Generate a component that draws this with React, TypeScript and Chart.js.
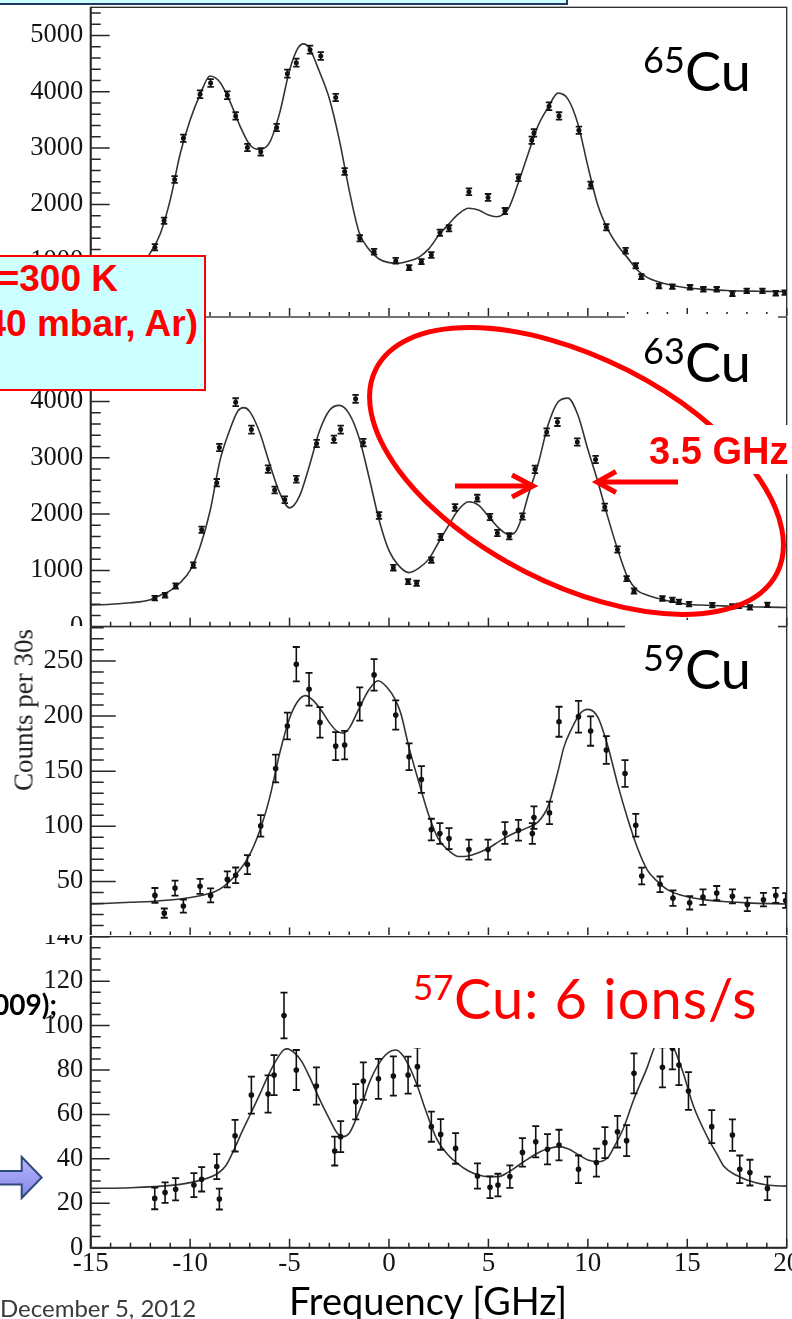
import React, { useEffect, useRef } from 'react';
import { Chart, registerables } from 'chart.js';

Chart.register(...registerables);
Chart.defaults.font.family = 'Liberation Serif';

// ---------------- data ----------------
const X_MIN = -15;
const X_MAX = 20;
const X_TICKS = [-15, -10, -5, 0, 5, 10, 15, 20];

const Y_TICKS_65CU = [0, 1000, 2000, 3000, 4000, 5000];
const Y_TICKS_63CU = [0, 1000, 2000, 3000, 4000, 5000];
const Y_TICKS_59CU = [50, 100, 150, 200, 250];
const Y_TICKS_57CU = [0, 20, 40, 60, 80, 100, 120, 140];

// [frequency (GHz), counts, error]
const CU65_POINTS: [number, number, number][] = [
  [-11.77, 1238, 55], [-11.31, 1709, 55], [-10.78, 2443, 60], [-10.34, 3175, 65], [-9.5, 3956, 70],
  [-8.97, 4156, 70], [-8.13, 3938, 70], [-7.71, 3571, 65], [-7.12, 3010, 65], [-6.45, 2933, 65],
  [-5.65, 3365, 65], [-5.11, 4322, 70], [-4.66, 4517, 70], [-3.97, 4748, 70], [-3.43, 4635, 70],
  [-2.68, 3897, 65], [-2.23, 2585, 60], [-1.47, 1397, 55], [-0.75, 1160, 50], [0.34, 1000, 50],
  [1.01, 876, 45], [1.63, 983, 45], [2.13, 1101, 50], [2.56, 1497, 55], [3.02, 1574, 55],
  [4.02, 2223, 60], [4.98, 2124, 60], [5.83, 1881, 55], [6.51, 2472, 60], [7.18, 3140, 65],
  [7.29, 3269, 65], [8.05, 3743, 70], [8.55, 3571, 65], [9.55, 3317, 65], [10.14, 2342, 60],
  [10.93, 1592, 55], [11.9, 1177, 50], [12.41, 911, 45], [12.69, 716, 45], [13.58, 551, 40],
  [14.25, 539, 40], [15.14, 528, 40], [15.81, 493, 40], [16.48, 493, 40], [17.27, 410, 40],
  [17.99, 463, 40], [18.78, 463, 40], [19.45, 422, 40], [19.9, 433, 40],
];
const CU65_FIT: [number, number][] = [
  [-15, 470], [-14, 520], [-13, 680], [-12.5, 880], [-12, 1140], [-11.5, 1480], [-11, 2080],
  [-10.5, 2900], [-10, 3500], [-9.5, 3950], [-9, 4280], [-8.5, 4170], [-8, 3830], [-7.5, 3400],
  [-7, 3060], [-6.5, 2975], [-6, 3100], [-5.5, 3620], [-5, 4380], [-4.6, 4760], [-4.3, 4850],
  [-4, 4770], [-3.5, 4360], [-3, 3880], [-2.5, 3150], [-2, 2250], [-1.5, 1500], [-1, 1200],
  [-0.5, 1030], [0, 965], [0.5, 955], [1, 995], [1.5, 1060], [2, 1210], [2.5, 1450], [3, 1650],
  [3.5, 1830], [4, 1930], [4.5, 1900], [5, 1810], [5.4, 1780], [6, 1920], [6.5, 2380], [7, 2900],
  [7.5, 3400], [8, 3720], [8.5, 3975], [9, 3870], [9.5, 3430], [10, 2680], [10.5, 1990],
  [11, 1560], [11.5, 1270], [12, 1050], [12.5, 830], [13, 700], [13.5, 630], [14, 580],
  [15, 515], [16, 490], [17, 470], [18, 460], [19, 455], [20, 450],
];

const CU63_POINTS: [number, number, number][] = [
  [-11.78, 506, 40], [-11.26, 559, 40], [-10.73, 723, 45], [-9.84, 1094, 50], [-9.42, 1723, 55],
  [-8.66, 2558, 65], [-8.53, 3182, 65], [-7.71, 3987, 70], [-6.92, 3500, 70], [-6.08, 2799, 65],
  [-5.75, 2429, 60], [-5.24, 2253, 60], [-4.66, 2618, 60], [-3.64, 3253, 65], [-2.77, 3329, 65],
  [-2.43, 3500, 70], [-1.68, 4047, 70], [-1.29, 3270, 65], [-0.5, 1976, 60], [0.22, 1048, 50],
  [0.96, 801, 45], [1.39, 771, 45], [2.13, 1182, 50], [2.6, 1595, 55], [3.32, 2117, 60],
  [4.44, 2283, 60], [5.08, 1947, 55], [5.45, 1665, 55], [6.05, 1605, 55], [6.71, 1958, 55],
  [7.34, 2794, 65], [7.93, 3457, 65], [8.47, 3634, 70], [9.47, 3281, 65], [10.39, 2970, 65],
  [10.85, 2124, 60], [11.49, 1371, 55], [11.95, 854, 45], [12.32, 635, 45], [13.75, 501, 40],
  [14.25, 476, 40], [14.58, 441, 40], [15.09, 400, 40], [16.26, 383, 40], [17.27, 360, 40],
  [17.6, 370, 40], [18.15, 342, 40], [19.03, 388, 40],
];
const CU63_FIT: [number, number][] = [
  [-15, 385], [-14, 400], [-13, 425], [-12, 480], [-11.5, 560], [-11, 640], [-10.5, 780],
  [-10, 1000], [-9.5, 1420], [-9, 2050], [-8.5, 2950], [-8, 3500], [-7.6, 3830], [-7.3, 3890],
  [-7, 3820], [-6.5, 3450], [-6, 2890], [-5.5, 2380], [-5, 2110], [-4.5, 2320], [-4, 2860],
  [-3.5, 3470], [-3, 3840], [-2.5, 3930], [-2, 3780], [-1.5, 3350], [-1, 2650], [-0.5, 1900],
  [0, 1350], [0.5, 1080], [1, 960], [1.5, 1040], [2, 1200], [2.5, 1500], [3, 1800], [3.5, 2080],
  [4, 2220], [4.5, 2160], [5, 1960], [5.5, 1760], [6, 1640], [6.3, 1660], [6.7, 1960], [7, 2330],
  [7.5, 2890], [8, 3580], [8.5, 3990], [9, 4060], [9.5, 3760], [10, 3150], [10.5, 2580],
  [11, 1950], [11.5, 1370], [12, 880], [12.5, 640], [13, 560], [13.5, 505], [14, 460], [15, 400],
  [16, 380], [17, 365], [18, 355], [19, 348], [20, 340],
];

const CU59_POINTS: [number, number, number][] = [
  [-11.77, 37.3, 6.7], [-11.3, 21.2, 4.2], [-10.76, 43.9, 6.8], [-10.34, 27.6, 5.9], [-9.5, 45.5, 6.8],
  [-8.97, 37.3, 6.4], [-8.13, 51.8, 7.3], [-7.71, 55.5, 7.1], [-7.12, 65.2, 8.6], [-6.45, 100.3, 9.8],
  [-5.7, 152.4, 12.6], [-5.11, 190.9, 12.1], [-4.66, 247, 15.6], [-4.02, 224.3, 14.8], [-3.47, 194.2, 13.9],
  [-2.68, 172.7, 12.7], [-2.23, 173.6, 13], [-1.47, 210.9, 15.1], [-0.75, 237.3, 14.2], [0.34, 200.9, 13.3],
  [1.01, 163, 12.1], [1.63, 142.4, 12.1], [2.13, 97, 9.8], [2.56, 93.4, 9.4], [3.02, 88.8, 9.5],
  [4.02, 78.8, 9.1], [4.98, 78.8, 9.1], [5.83, 93.9, 9.8], [6.51, 96.4, 9.4], [7.21, 93.4, 9.4],
  [7.29, 107.9, 10.2], [8.07, 112.1, 10.2], [8.55, 194.8, 13.6], [9.53, 199.4, 14.4], [10.14, 186.3, 13.3],
  [10.93, 169.1, 12.6], [11.87, 147.9, 12.1], [12.41, 100.9, 10.3], [12.71, 54.8, 7.6], [13.63, 47.3, 7.1],
  [14.28, 34.8, 7.1], [15.12, 30.6, 6.1], [15.79, 35.7, 7], [16.48, 39.4, 6.4], [17.27, 36.4, 6.4],
  [18.02, 29.1, 6.1], [18.83, 33.4, 6.1], [19.45, 37.3, 6.8], [19.95, 32.7, 6.7],
];
const CU59_FIT: [number, number][] = [
  [-15, 29.5], [-13, 31], [-11.8, 32], [-10.5, 34], [-9.5, 37], [-8.8, 40.3], [-8.3, 45.5], [-7.8, 54],
  [-7.1, 71], [-6.5, 96], [-6, 126], [-5.5, 166], [-5, 198], [-4.6, 213], [-4.2, 218.5], [-3.8, 214],
  [-3.4, 205], [-3, 194], [-2.6, 186], [-2.3, 184.5], [-2, 189], [-1.5, 207], [-1, 224], [-0.55, 232],
  [-0.1, 226], [0.34, 214], [0.6, 202], [1, 172], [1.5, 140], [2, 110], [2.5, 88], [3, 78], [3.5, 72.5],
  [4, 73], [4.5, 76], [5, 80], [5.6, 87], [6.2, 93], [7, 99], [7.5, 104], [8, 118], [8.5, 150],
  [8.8, 172], [9.2, 189], [9.6, 202], [10, 206], [10.5, 199], [11, 173], [11.5, 138], [12, 107],
  [12.5, 80], [13, 60], [13.5, 50], [14, 42.5], [15, 36], [16, 33], [17, 31.5], [18, 30.5], [20, 29.5],
];

const CU57_POINTS: [number, number, number][] = [
  [-11.78, 22.2, 4.9], [-11.26, 24.8, 4.6], [-10.73, 26.3, 5], [-9.81, 28.2, 5.4], [-9.42, 30.8, 5.5],
  [-8.66, 36.5, 5.6], [-8.53, 21.9, 4.7], [-7.74, 50.4, 7.1], [-6.92, 68.7, 8.3], [-6.08, 69.2, 8.4],
  [-5.78, 77.7, 9], [-5.28, 104.5, 10.3], [-4.66, 80, 9], [-3.65, 72.8, 8.4], [-2.73, 43.5, 6.5],
  [-2.43, 50, 7], [-1.67, 65.7, 7.9], [-1.29, 75, 8.4], [-0.53, 76, 9], [0.22, 77.3, 8.8],
  [0.96, 77.7, 8.3], [1.43, 81.5, 8.6], [2.13, 54.5, 6.8], [2.6, 51, 6.9], [3.35, 44.7, 6.9],
  [4.45, 32.3, 5.7], [5.08, 27.2, 4.9], [5.48, 28.2, 5.1], [6.08, 32, 5.1], [6.71, 42.9, 6.4],
  [7.38, 47.7, 7], [7.97, 44.3, 6.8], [8.55, 46.2, 6.9], [9.53, 35.3, 6.2], [10.43, 38.3, 6.3],
  [10.86, 47.3, 7], [11.49, 52.2, 7.1], [11.95, 48.2, 7], [12.32, 78.5, 9], [13.75, 81.2, 9],
  [14.25, 89.8, 9.5], [14.58, 82.2, 9], [15.06, 70.5, 8.5], [16.23, 54.5, 7.4], [17.27, 50.7, 7.1],
  [17.64, 35.3, 6.2], [18.15, 33.8, 5.8], [19.03, 26.7, 5.3],
];
const CU57_FIT: [number, number][] = [
  [-15, 26.7], [-13, 27], [-11.8, 27.5], [-10.5, 28.5], [-9.5, 30.3], [-8.6, 33.5], [-8.2, 37],
  [-7.8, 44], [-7.4, 52], [-7, 59.5], [-6.5, 69], [-6.1, 77], [-5.7, 84], [-5.3, 89], [-5.1, 89.5],
  [-4.8, 88], [-4.4, 84], [-4, 77], [-3.5, 67], [-3, 58], [-2.6, 51.5], [-2.3, 50], [-2, 51.5],
  [-1.7, 57], [-1.3, 66], [-1, 74], [-0.5, 83], [0, 88], [0.35, 89], [0.7, 86.5], [1.1, 80],
  [1.5, 71], [1.8, 63], [2.4, 49], [3, 41.5], [3.5, 37.5], [4, 34.5], [4.5, 32.7], [5, 32], [5.5, 32],
  [6, 34], [6.5, 37], [7, 40], [7.6, 43.2], [8, 44.5], [8.55, 45.5], [9, 44.5], [9.5, 42], [10, 39.5],
  [10.5, 38.7], [11, 40.5], [11.3, 45], [11.8, 54], [12.3, 66.5], [13, 81.5], [13.33, 89.8],
  [13.85, 98], [14.33, 89.8], [14.8, 78.5], [15.3, 64], [16, 50], [16.5, 42], [16.85, 36.5],
  [17.5, 32.5], [18, 30.5], [19, 28.2], [20, 27.7],
];

// ---------------- layout ----------------
type Panel = {
  points: [number, number, number][];
  fit: [number, number][];
  yTicks: number[];
  top: number; height: number; areaTop: number; areaBottom: number;
  yMax: number; yMajor: number; yMinor: number; yMajorLen: number; yMinorLen: number;
  markerR: number; capR: number; showX: boolean;
};

const W = 792;
const AXIS_LEFT = 90.7;
const AXIS_RIGHT = 786.7;

const PANELS: Panel[] = [
  { points: CU65_POINTS, fit: CU65_FIT, yTicks: Y_TICKS_65CU, top: 0, height: 319, areaTop: 7.3, areaBottom: 317,
    yMax: 5500, yMajor: 1000, yMinor: 200, yMajorLen: 19, yMinorLen: 10, markerR: 2.5, capR: 3.2, showX: false },
  { points: CU63_POINTS, fit: CU63_FIT, yTicks: Y_TICKS_63CU, top: 316, height: 312, areaTop: 317, areaBottom: 626.7,
    yMax: 5500, yMajor: 1000, yMinor: 200, yMajorLen: 19, yMinorLen: 10, markerR: 2.5, capR: 3.2, showX: false },
  { points: CU59_POINTS, fit: CU59_FIT, yTicks: Y_TICKS_59CU, top: 626, height: 312, areaTop: 626.7, areaBottom: 936.5,
    yMax: 281, yMajor: 50, yMinor: 10, yMajorLen: 25, yMinorLen: 13, markerR: 2.8, capR: 3.5, showX: false },
  { points: CU57_POINTS, fit: CU57_FIT, yTicks: Y_TICKS_57CU, top: 935, height: 384, areaTop: 936.7, areaBottom: 1247.7,
    yMax: 140, yMajor: 20, yMinor: 5, yMajorLen: 19, yMinorLen: 10, markerR: 2.8, capR: 3.5, showX: true },
];

const frameTicksPlugin = {
  id: 'frameTicks',
  afterDraw(chart: any, _args: any, opts: any) {
    const { ctx, chartArea: a, scales } = chart;
    const xs = scales.x;
    const ys = scales.y;
    ctx.save();
    ctx.strokeStyle = '#262626';
    ctx.lineWidth = 1.3;
    ctx.strokeRect(a.left, a.top, a.right - a.left, a.bottom - a.top);
    ctx.lineWidth = 2;
    ctx.beginPath();
    ctx.moveTo(a.left, a.top);
    ctx.lineTo(a.left, a.bottom);
    ctx.lineTo(a.right, a.bottom);
    ctx.stroke();
    ctx.lineWidth = 1.5;
    ctx.beginPath();
    const nY = Math.floor(ys.max / opts.yMinor + 1e-6);
    for (let i = 0; i <= nY; i++) {
      const v = i * opts.yMinor;
      const r = v / opts.yMajor;
      const major = Math.abs(r - Math.round(r)) < 1e-6;
      const py = ys.getPixelForValue(v);
      ctx.moveTo(a.left, py);
      ctx.lineTo(a.left + (major ? opts.yMajorLen : opts.yMinorLen), py);
    }
    const nX = Math.round(xs.max - xs.min);
    for (let i = 0; i <= nX; i++) {
      const v = xs.min + i;
      const major = Math.abs(v % 5) < 1e-6;
      const px = xs.getPixelForValue(v);
      ctx.moveTo(px, a.bottom);
      ctx.lineTo(px, a.bottom - (major ? 9 : 5));
    }
    ctx.stroke();
    ctx.restore();
  },
};

function PanelChart({ p }: { p: Panel }) {
  const ref = useRef<HTMLCanvasElement>(null);
  useEffect(() => {
    const canvas = ref.current;
    if (!canvas) return;
    const errData: any[] = [];
    p.points.forEach(([x, y, e]) => {
      errData.push({ x, y: y - e }, { x, y: y + e }, { x, y: null });
    });
    const xAxisHeight = p.showX ? p.height - (p.areaBottom - p.top) : 0;
    const chart = new Chart(canvas, {
      type: 'line',
      data: {
        datasets: [
          {
            data: p.points.map(([x, y]) => ({ x, y })),
            showLine: false,
            pointStyle: 'circle',
            pointRadius: p.markerR,
            pointBackgroundColor: '#111',
            pointBorderColor: '#111',
            pointBorderWidth: 0,
          },
          {
            data: errData,
            showLine: true,
            spanGaps: false,
            borderColor: '#111',
            borderWidth: 1.6,
            pointStyle: 'line',
            pointRadius: p.capR,
            pointBorderColor: '#111',
            pointBorderWidth: 1.8,
            tension: 0,
          },
          {
            data: p.fit.map(([x, y]) => ({ x, y })),
            showLine: true,
            borderColor: '#333',
            borderWidth: 1.6,
            pointRadius: 0,
            cubicInterpolationMode: 'monotone',
          },
        ],
      } as any,
      options: {
        animation: false,
        responsive: false,
        devicePixelRatio: 1,
        events: [],
        layout: {
          autoPadding: false,
          padding: {
            top: p.areaTop - p.top,
            right: W - AXIS_RIGHT,
            bottom: p.showX ? 0 : p.top + p.height - p.areaBottom,
            left: 0,
          },
        },
        plugins: {
          legend: { display: false },
          tooltip: { enabled: false },
          frameTicks: { yMinor: p.yMinor, yMajor: p.yMajor, yMajorLen: p.yMajorLen, yMinorLen: p.yMinorLen },
        },
        scales: {
          x: {
            type: 'linear',
            min: X_MIN,
            max: X_MAX,
            display: p.showX,
            grid: { display: false, drawTicks: false },
            border: { display: false },
            afterBuildTicks: (s: any) => {
              s.ticks = X_TICKS.map((v) => ({ value: v }));
            },
            ticks: {
              autoSkip: false,
              maxRotation: 0,
              padding: 0,
              color: '#141414',
              font: { family: 'Liberation Serif', size: 27 },
              callback: (v: any) => String(v),
            },
            afterFit: (s: any) => {
              if (p.showX) s.height = xAxisHeight;
              s.paddingLeft = 0;
              s.paddingRight = 0;
            },
          },
          y: {
            type: 'linear',
            min: 0,
            max: p.yMax,
            grid: { display: false, drawTicks: false },
            border: { display: false },
            afterBuildTicks: (s: any) => {
              s.ticks = p.yTicks.map((v) => ({ value: v }));
            },
            ticks: {
              autoSkip: false,
              padding: 7.5,
              color: '#141414',
              font: { family: 'Liberation Serif', size: 26.5 },
              callback: (v: any) => String(v),
            },
            afterFit: (s: any) => {
              s.width = AXIS_LEFT;
              s.paddingTop = 0;
              s.paddingBottom = 0;
            },
          },
        },
      } as any,
      plugins: [frameTicksPlugin as any],
    });
    return () => chart.destroy();
  }, [p]);
  return (
    <canvas
      ref={ref}
      width={W}
      height={p.height}
      style={{ position: 'absolute', left: 0, top: p.top, width: W, height: p.height, background: '#fff' }}
    />
  );
}

const abs = (s: React.CSSProperties): React.CSSProperties => ({ position: 'absolute', whiteSpace: 'nowrap', ...s });

function IsoLabel({ mass, top, left }: { mass: string; top: number; left: number }) {
  return (
    <>
      <div style={abs({ left, top: top - 19 - 31.9, fontFamily: 'Lato', fontSize: 36, lineHeight: '36px', color: '#000' })}>{mass}</div>
      <div style={abs({ left: left + 42, top: top - 47.9, fontFamily: 'Lato', fontSize: 54, lineHeight: '54px', color: '#000' })}>Cu</div>
    </>
  );
}

export default function App() {
  return (
    <div style={{ position: 'absolute', left: 0, top: 0, width: W, height: 1319, overflow: 'hidden', background: '#fff' }}>
      {PANELS.map((p, i) => (
        <PanelChart key={i} p={p} />
      ))}

      {/* white patches hiding parts of the axis lines */}
      <div style={abs({ left: 625, top: 313.7, width: 153, height: 6.5, background: '#fff' })} />
      <div style={abs({ left: 625, top: 619.5, width: 153, height: 12.5, background: '#fff' })} />

      {/* top title box (cut off) */}
      <div style={abs({ left: -2, top: -20, width: 570, height: 24.7, boxSizing: 'border-box', background: '#ccffff', border: '2px solid #1f3864' })} />

      {/* condition box */}
      <div style={abs({ left: -2, top: 254.5, width: 207.5, height: 136, boxSizing: 'border-box', background: '#ccffff', border: '2px solid #ff0000' })} />
      <div style={abs({ right: W - 118, top: 259.7, fontFamily: 'Liberation Sans', fontWeight: 'bold', fontSize: 37, lineHeight: '37px', color: '#ff0000' })}>T=300 K</div>
      <div style={abs({ right: W - 198, top: 304.7, fontFamily: 'Liberation Sans', fontWeight: 'bold', fontSize: 37, lineHeight: '37px', color: '#ff0000' })}>(p=40 mbar, Ar)</div>

      {/* annotations */}
      <svg width={W} height={1319} style={{ position: 'absolute', left: 0, top: 0 }}>
        <ellipse cx={576.5} cy={471} rx={225} ry={113} transform="rotate(27 576.5 471)" fill="none" stroke="#ff0000" strokeWidth={5} />
        <g stroke="#ff0000" strokeWidth={5} fill="none" strokeLinecap="butt" strokeLinejoin="miter">
          <line x1={455} y1={486} x2={531} y2={486} />
          <polyline points="512,475 533,486 512,497" />
          <line x1={678} y1={482} x2={599} y2={482} />
          <polyline points="616,471.5 597,482 616,492.5" />
        </g>
        <defs>
          <linearGradient id="barrow" x1="0" y1="0" x2="0" y2="1">
            <stop offset="0" stopColor="#b7b7ff" />
            <stop offset="1" stopColor="#8585e6" />
          </linearGradient>
        </defs>
        <polygon
          points="-5,1171 21.7,1171 21.7,1157 41.7,1177.5 21.7,1198 21.7,1184.5 -5,1184.5"
          fill="url(#barrow)"
          stroke="#2e4a7a"
          strokeWidth={2}
        />
      </svg>

      {/* 3.5 GHz label */}
      <div style={abs({ left: 642, top: 425, width: 150, height: 48.5, background: '#fff' })} />
      <div style={abs({ left: 649, top: 431.5, fontFamily: 'Liberation Sans', fontWeight: 'bold', fontSize: 38, lineHeight: '38px', color: '#ff0000' })}>3.5 GHz</div>

      {/* 57Cu label */}
      <div style={abs({ left: 405, top: 950, width: 375, height: 98.3, background: '#fff' })} />
      <div style={abs({ left: 413, top: 969, fontFamily: 'Lato', fontSize: 35, lineHeight: '35px', color: '#ff0000' })}>57</div>
      <div style={abs({ left: 454, top: 970.3, fontFamily: 'Lato', fontSize: 56, lineHeight: '56px', letterSpacing: '1px', color: '#ff0000' })}>Cu: 6 ions/s</div>

      <IsoLabel mass="65" top={91.5} left={643} />
      <IsoLabel mass="63" top={383} left={643} />
      <IsoLabel mass="59" top={690} left={643} />

      <div
        style={abs({
          left: 24,
          top: 710,
          transform: 'translate(-50%, -50%) rotate(-90deg)',
          fontFamily: 'Liberation Serif',
          fontSize: 27,
          lineHeight: '27px',
          color: '#222',
        })}
      >
        Counts per 30s
      </div>

      <div style={abs({ right: W - 57, top: 990.2, fontFamily: 'Lato', fontWeight: 'bold', fontSize: 28, lineHeight: '28px', color: '#000' })}>(2009);</div>

      <div style={abs({ left: 289, top: 1280.8, fontFamily: 'Lato', fontSize: 38, lineHeight: '38px', color: '#000' })}>Frequency [GHz]</div>
      <div style={abs({ left: 0, top: 1295.7, fontFamily: 'Lato', fontSize: 24, lineHeight: '24px', color: '#3a3a3a' })}>December 5, 2012</div>
    </div>
  );
}
